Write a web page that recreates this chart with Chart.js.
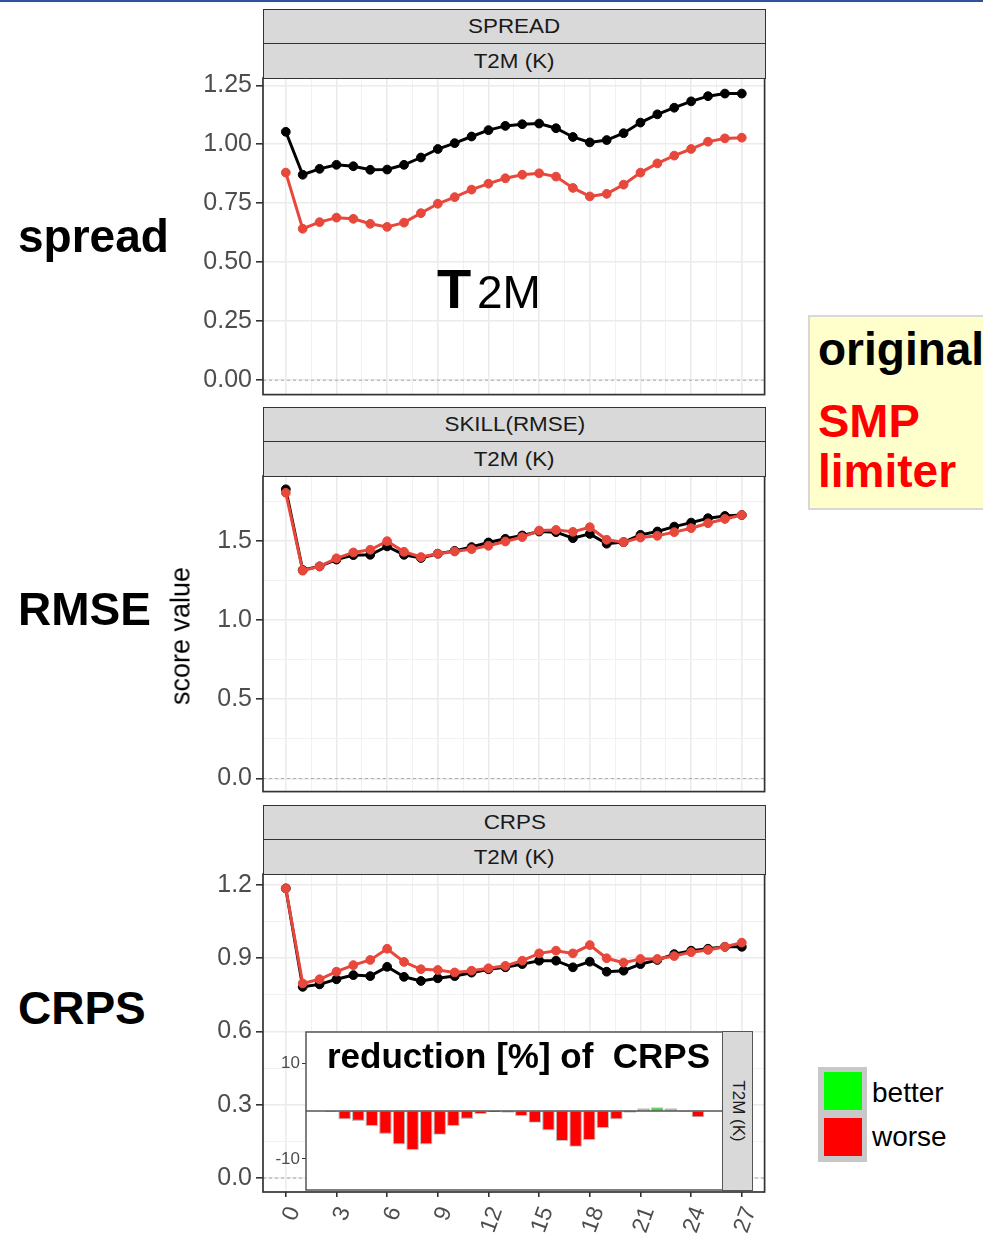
<!DOCTYPE html>
<html>
<head>
<meta charset="utf-8">
<script src="https://cdn.jsdelivr.net/npm/chart.js@4.4.1/dist/chart.umd.min.js"></script>
<style>
html,body{margin:0;padding:0;background:#fff;}
body{width:983px;height:1239px;position:relative;overflow:hidden;font-family:"Liberation Sans",Arial,Helvetica,sans-serif;}
canvas{position:absolute;}
.abs{position:absolute;white-space:nowrap;}
.strip{position:absolute;left:263px;width:503px;background:#d9d9d9;border:1.5px solid #333;box-sizing:border-box;display:flex;align-items:center;justify-content:center;font-size:20px;color:#1a1a1a;z-index:3;}
.strip span{display:inline-block;transform:scaleX(1.12);}
.big{position:absolute;font-weight:bold;font-size:46px;line-height:1;white-space:nowrap;color:#000;z-index:3;}
</style>
</head>
<body>
<!-- slide edge -->
<div class="abs" style="left:0;top:0;width:983px;height:2px;background:#2f4f9f"></div>

<!-- facet strips -->
<div class="strip" style="top:9px;height:35.5px"><span>SPREAD</span></div>
<div class="strip" style="top:43px;height:36px"><span>T2M (K)</span></div>
<div class="strip" style="top:407px;height:35.5px"><span>SKILL(RMSE)</span></div>
<div class="strip" style="top:441px;height:36px"><span>T2M (K)</span></div>
<div class="strip" style="top:805px;height:35.5px"><span>CRPS</span></div>
<div class="strip" style="top:839px;height:36px"><span>T2M (K)</span></div>

<canvas id="cSpread" width="620" height="342" style="left:150px;top:58px"></canvas>
<canvas id="cRmse" width="620" height="341" style="left:150px;top:456px"></canvas>
<canvas id="cCrps" width="620" height="385" style="left:150px;top:854px"></canvas>
<canvas id="cRed" width="457" height="162" style="left:266px;top:1030px;z-index:4"></canvas>

<!-- inset strip and title -->
<div class="abs" style="left:722px;top:1031px;width:31px;height:160px;background:#d9d9d9;border:1.5px solid #555;box-sizing:border-box;z-index:5;">
  <div class="abs" style="left:50%;top:50%;transform:translate(-50%,-50%) rotate(90deg);font-size:17px;color:#1a1a1a;">T2M (K)</div>
</div>
<div class="abs" style="left:327px;top:1038px;font-weight:bold;font-size:35px;line-height:1;white-space:pre;z-index:6;color:#000">reduction [%] of  CRPS</div>

<!-- row labels -->
<div class="big" style="left:18px;top:213px">spread</div>
<div class="big" style="left:18px;top:586px">RMSE</div>
<div class="big" style="left:18px;top:985px">CRPS</div>
<div class="abs" style="left:181px;top:636px;transform:translate(-50%,-50%) rotate(-90deg);font-size:27px;color:#000;z-index:3">score value</div>

<!-- variable label -->
<div class="abs" style="left:437px;top:261px;font-weight:bold;font-size:56px;line-height:1;z-index:3">T</div>
<div class="abs" style="left:477px;top:269px;font-size:46px;line-height:1;z-index:3">2M</div>

<!-- experiment key -->
<div class="abs" style="left:808px;top:315px;width:190px;height:195px;background:#ffffcc;border:2px solid #d8d8d8;box-sizing:border-box;"></div>
<div class="big" style="left:818px;top:326px;color:#000">original</div>
<div class="big" style="left:818px;top:397px;color:#ff0000;font-size:47px">SMP</div>
<div class="big" style="left:818px;top:448px;color:#ff0000">limiter</div>

<!-- better / worse key -->
<div class="abs" style="left:818px;top:1067px;width:49px;height:95px;background:#c8c8c8"></div>
<div class="abs" style="left:824px;top:1072px;width:38px;height:38px;background:#00ff00"></div>
<div class="abs" style="left:824px;top:1118px;width:38px;height:38px;background:#ff0000"></div>
<div class="abs" style="left:872px;top:1079px;font-size:28px;line-height:1;color:#000">better</div>
<div class="abs" style="left:872px;top:1123px;font-size:28px;line-height:1;color:#000">worse</div>

<script>
// lead times (x axis)
const leads = [0,1,2,3,4,5,6,7,8,9,10,11,12,13,14,15,16,17,18,19,20,21,22,23,24,25,26,27];

// spread
const spreadOriginal = [1.053,0.871,0.896,0.913,0.907,0.892,0.893,0.913,0.944,0.980,1.005,1.033,1.060,1.078,1.085,1.088,1.068,1.031,1.008,1.018,1.047,1.092,1.127,1.155,1.182,1.204,1.215,1.215];
const spreadSMP      = [0.880,0.642,0.670,0.689,0.684,0.663,0.650,0.668,0.708,0.748,0.776,0.808,0.833,0.856,0.871,0.877,0.863,0.815,0.779,0.790,0.829,0.880,0.919,0.952,0.980,1.011,1.025,1.028];

// RMSE
const rmseOriginal = [1.824,1.315,1.338,1.381,1.409,1.411,1.464,1.411,1.391,1.418,1.436,1.460,1.489,1.512,1.533,1.558,1.554,1.516,1.543,1.481,1.491,1.537,1.558,1.589,1.614,1.642,1.656,1.662];
const rmseSMP      = [1.802,1.311,1.338,1.389,1.426,1.443,1.497,1.430,1.397,1.418,1.432,1.447,1.468,1.495,1.523,1.564,1.568,1.556,1.585,1.506,1.491,1.520,1.531,1.554,1.579,1.610,1.637,1.662];

// CRPS
const crpsOriginal = [1.186,0.783,0.793,0.814,0.831,0.827,0.865,0.824,0.807,0.818,0.827,0.841,0.855,0.863,0.876,0.890,0.890,0.863,0.886,0.845,0.849,0.876,0.893,0.917,0.931,0.939,0.947,0.947];
const crpsSMP      = [1.186,0.797,0.814,0.845,0.872,0.893,0.939,0.885,0.855,0.852,0.842,0.849,0.859,0.869,0.890,0.920,0.931,0.920,0.954,0.900,0.882,0.897,0.897,0.909,0.925,0.934,0.947,0.964];

// CRPS reduction [%] of SMP limiter vs original
const crpsReduction = [-0.1,-1.7,-2.0,-3.1,-4.7,-6.9,-8.1,-6.9,-4.9,-3.1,-1.6,-0.6,-0.15,-0.3,-1.0,-2.4,-4.0,-6.2,-7.4,-6.0,-3.5,-1.7,-0.3,0.5,0.7,0.5,-0.05,-1.25];

// axis breaks and labels
const xMajor = [0,3,6,9,12,15,18,21,24,27];
const xMinor = [1.5,4.5,7.5,10.5,13.5,16.5,19.5,22.5,25.5];
const xLabels = ['0','3','6','9','12','15','18','21','24','27'];

const spreadMajor = [0,0.25,0.5,0.75,1,1.25];
const spreadMinor = [0.125,0.375,0.625,0.875,1.125];
const spreadLabels = ['0.00','0.25','0.50','0.75','1.00','1.25'];

const rmseMajor = [0,0.5,1,1.5];
const rmseMinor = [0.25,0.75,1.25,1.75];
const rmseLabels = ['0.0','0.5','1.0','1.5'];

const crpsMajor = [0,0.3,0.6,0.9,1.2];
const crpsMinor = [0.15,0.45,0.75,1.05];
const crpsLabels = ['0.0','0.3','0.6','0.9','1.2'];

const redMajor = [-10,10];
const redLabels = ['-10','10'];

Chart.defaults.font.family = '"Liberation Sans", Arial, Helvetica, sans-serif';
Chart.defaults.animation = false;

const COL_ORIG = '#000000';
const COL_SMP = '#e8473b';

function idxOf(list, v) {
  for (let i = 0; i < list.length; i++) if (Math.abs(list[i] - v) < 1e-6) return i;
  return -1;
}

function gridFor(major) {
  return {
    color: c => (c.tick && idxOf(major, c.tick.value) >= 0) ? '#ebebeb' : '#f1f1f1',
    lineWidth: c => (c.tick && idxOf(major, c.tick.value) >= 0) ? 1.6 : 1,
    tickColor: c => (c.tick && idxOf(major, c.tick.value) >= 0) ? '#333333' : 'rgba(0,0,0,0)'
  };
}

const panelBox = {
  id: 'panelBox',
  afterDraw(chart, args, opts) {
    const a = chart.chartArea, ctx = chart.ctx;
    ctx.save();
    ctx.strokeStyle = opts.color || '#333';
    ctx.lineWidth = 1.7;
    ctx.strokeRect(a.left, a.top, a.right - a.left, a.bottom - a.top);
    ctx.restore();
  }
};

const zeroLine = {
  id: 'zeroLine',
  beforeDatasetsDraw(chart, args, opts) {
    const a = chart.chartArea, ctx = chart.ctx;
    const y = chart.scales.y.getPixelForValue(0);
    ctx.save();
    ctx.strokeStyle = '#a8a8a8';
    ctx.lineWidth = 1;
    ctx.setLineDash([3, 3]);
    ctx.beginPath();
    ctx.moveTo(a.left, y);
    ctx.lineTo(a.right, y);
    ctx.stroke();
    ctx.restore();
  }
};

function series(vals, color) {
  return {
    data: leads.map((l, i) => ({x: l, y: vals[i]})),
    borderColor: color,
    backgroundColor: color,
    borderWidth: 3,
    pointRadius: 4.4,
    pointBorderWidth: 1,
    pointBackgroundColor: color,
    pointBorderColor: color,
    tension: 0
  };
}

function makePanel(id, orig, smp, yMin, yMax, major, minor, labels, showX) {
  const xAll = xMajor.concat(xMinor).sort((a, b) => a - b);
  const yAll = major.concat(minor).sort((a, b) => a - b);
  new Chart(document.getElementById(id), {
    type: 'line',
    data: { datasets: [series(smp, COL_SMP), series(orig, COL_ORIG)] },
    options: {
      responsive: false,
      events: [],
      layout: { padding: { top: 20, right: 4, bottom: showX ? 0 : 4, left: 0 } },
      plugins: { legend: { display: false }, tooltip: { enabled: false }, panelBox: { color: '#333' } },
      scales: {
        x: {
          type: 'linear', min: -1.35, max: 28.35,
          afterBuildTicks: s => { s.ticks = xAll.map(v => ({ value: v })); },
          afterFit: s => { s.height = showX ? 47 : 0; s.paddingLeft = 0; s.paddingRight = 0; },
          border: { display: false },
          grid: Object.assign(gridFor(xMajor), { drawTicks: showX, tickLength: 5 }),
          ticks: {
            display: showX, autoSkip: false, minRotation: 70, maxRotation: 70,
            padding: 6, labelOffset: 8,
            color: '#4d4d4d', font: { size: 23 },
            callback: v => { const k = idxOf(xMajor, v); return k >= 0 ? xLabels[k] : ''; }
          }
        },
        y: {
          type: 'linear', min: yMin, max: yMax,
          afterBuildTicks: s => { s.ticks = yAll.map(v => ({ value: v })); },
          afterFit: s => { s.width = 113; s.paddingTop = 0; s.paddingBottom = 0; },
          border: { display: false },
          grid: Object.assign(gridFor(major), { drawTicks: true, tickLength: 7 }),
          ticks: {
            padding: 4, color: '#4d4d4d', font: { size: 25 },
            callback: v => { const k = idxOf(major, v); return k >= 0 ? labels[k] : ''; }
          }
        }
      }
    },
    plugins: [panelBox, zeroLine]
  });
}

makePanel('cSpread', spreadOriginal, spreadSMP, -0.061, 1.281, spreadMajor, spreadMinor, spreadLabels, false);
makePanel('cRmse', rmseOriginal, rmseSMP, -0.082, 1.908, rmseMajor, rmseMinor, rmseLabels, false);
makePanel('cCrps', crpsOriginal, crpsSMP, -0.057, 1.245, crpsMajor, crpsMinor, crpsLabels, true);

// inset: CRPS reduction bars
const insetFrame = {
  id: 'insetFrame',
  beforeDraw(chart) {
    const a = chart.chartArea, ctx = chart.ctx;
    ctx.save();
    ctx.fillStyle = '#ffffff';
    ctx.fillRect(a.left, a.top, a.right - a.left, a.bottom - a.top);
    ctx.restore();
  },
  afterDatasetsDraw(chart) {
    const a = chart.chartArea, ctx = chart.ctx;
    const y = chart.scales.y.getPixelForValue(0);
    ctx.save();
    ctx.strokeStyle = '#555';
    ctx.lineWidth = 1.5;
    ctx.beginPath();
    ctx.moveTo(a.left, y);
    ctx.lineTo(a.right, y);
    ctx.stroke();
    ctx.strokeRect(a.left, a.top, a.right - a.left, a.bottom - a.top);
    ctx.restore();
  }
};

new Chart(document.getElementById('cRed'), {
  type: 'bar',
  data: {
    datasets: [{
      data: leads.map((l, i) => ({ x: l, y: crpsReduction[i] })),
      backgroundColor: c => (c.raw && c.raw.y > 0) ? '#00ff00' : '#ff0000',
      borderColor: '#c0c0c0',
      borderWidth: 1.2,
      borderSkipped: false,
      barThickness: 12
    }]
  },
  options: {
    responsive: false,
    events: [],
    layout: { padding: { top: 2, right: 0, bottom: 2, left: 0 } },
    plugins: { legend: { display: false }, tooltip: { enabled: false } },
    scales: {
      x: { type: 'linear', min: -1.845, max: 28.845, display: false, offset: false },
      y: {
        min: -16.46, max: 16.46,
        afterBuildTicks: s => { s.ticks = redMajor.map(v => ({ value: v })); },
        afterFit: s => { s.width = 40; s.paddingTop = 0; s.paddingBottom = 0; },
        border: { display: false },
        grid: { drawOnChartArea: false, drawTicks: true, tickLength: 4, tickColor: '#333' },
        ticks: {
          padding: 2, color: '#4d4d4d', font: { size: 17 },
          callback: v => { const k = idxOf(redMajor, v); return k >= 0 ? redLabels[k] : ''; }
        }
      }
    }
  },
  plugins: [insetFrame]
});
</script>
</body>
</html>
